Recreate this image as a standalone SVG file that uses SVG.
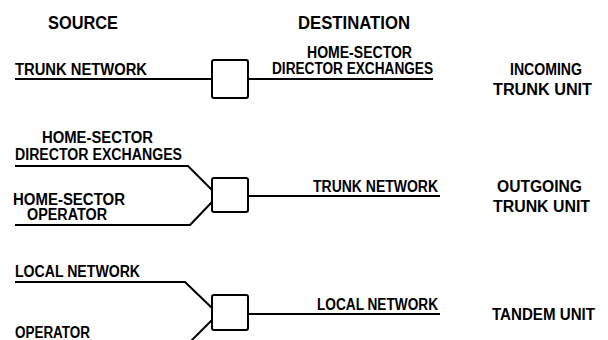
<svg xmlns="http://www.w3.org/2000/svg" width="608" height="340" viewBox="0 0 608 340">
<style>
text{font-family:"Liberation Sans",Arial,sans-serif;font-weight:bold;fill:#000;lengthAdjust:spacingAndGlyphs}
.h{font-size:18px}
.t{font-size:16px}
.box{fill:#fff;stroke:#000;stroke-width:2}
.ln{fill:none;stroke:#000;stroke-width:2;stroke-linejoin:round}
</style>
<rect width="608" height="340" fill="#fff"/>
<g id="headers">
<text class="h" x="48" y="29" textLength="70" lengthAdjust="spacingAndGlyphs">SOURCE</text>
<text class="h" x="298" y="29" textLength="112" lengthAdjust="spacingAndGlyphs">DESTINATION</text>
</g>
<g id="connectors">
<path class="ln" d="M15 79H212M248 79H433"/>
<path class="ln" d="M15 166H188L212 190M15 225H190L212 202M248 196H440"/>
<path class="ln" d="M15 282H185L212 308M212 320L190 342M248 314H440"/>
</g>
<g id="incoming-trunk-unit">
<rect class="box" x="212" y="60" width="36" height="38" rx="2"/>
<text class="t" x="15" y="75" textLength="132" lengthAdjust="spacingAndGlyphs">TRUNK NETWORK</text>
<text class="t" x="307" y="58" textLength="105" lengthAdjust="spacingAndGlyphs">HOME-SECTOR</text>
<text class="t" x="272" y="74" textLength="161" lengthAdjust="spacingAndGlyphs">DIRECTOR EXCHANGES</text>
<text class="t" x="510" y="75" textLength="72" lengthAdjust="spacingAndGlyphs">INCOMING</text>
<text class="t" x="493" y="95" textLength="99" lengthAdjust="spacingAndGlyphs">TRUNK UNIT</text>
</g>
<g id="outgoing-trunk-unit">
<rect class="box" x="212" y="178" width="36" height="34" rx="2"/>
<text class="t" x="42" y="143" textLength="111" lengthAdjust="spacingAndGlyphs">HOME-SECTOR</text>
<text class="t" x="15" y="160" textLength="167" lengthAdjust="spacingAndGlyphs">DIRECTOR EXCHANGES</text>
<text class="t" x="13" y="205" textLength="112" lengthAdjust="spacingAndGlyphs">HOME-SECTOR</text>
<text class="t" x="27" y="220" textLength="80" lengthAdjust="spacingAndGlyphs">OPERATOR</text>
<text class="t" x="313" y="192" textLength="125" lengthAdjust="spacingAndGlyphs">TRUNK NETWORK</text>
<text class="t" x="497" y="192" textLength="85" lengthAdjust="spacingAndGlyphs">OUTGOING</text>
<text class="t" x="493" y="212" textLength="97" lengthAdjust="spacingAndGlyphs">TRUNK UNIT</text>
</g>
<g id="tandem-unit">
<rect class="box" x="212" y="295" width="36" height="35" rx="2"/>
<text class="t" x="15" y="277" textLength="125" lengthAdjust="spacingAndGlyphs">LOCAL NETWORK</text>
<text class="t" x="15" y="338" textLength="75" lengthAdjust="spacingAndGlyphs">OPERATOR</text>
<text class="t" x="317" y="310" textLength="121" lengthAdjust="spacingAndGlyphs">LOCAL NETWORK</text>
<text class="t" x="492" y="320" textLength="103" lengthAdjust="spacingAndGlyphs">TANDEM UNIT</text>
</g>
</svg>
